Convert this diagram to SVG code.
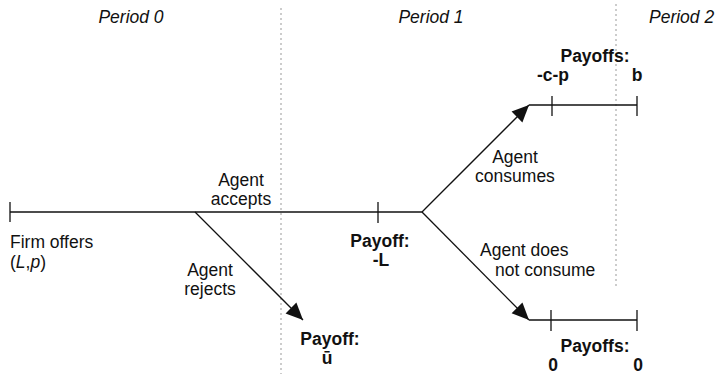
<svg xmlns="http://www.w3.org/2000/svg" width="716" height="374" viewBox="0 0 716 374">
<style>
text{font-family:"Liberation Sans",Arial,sans-serif;font-size:17.5px;fill:#111}
.it{font-style:italic}
.b{font-weight:bold}
.m{text-anchor:middle}
.ln{stroke:#111;stroke-width:1.3;fill:none}
.dot{stroke:#999;stroke-width:1;stroke-dasharray:2 3;fill:none}
</style>
<defs>
<marker id="ah" viewBox="0 0 10 10" refX="10" refY="5" markerWidth="17" markerHeight="17" markerUnits="userSpaceOnUse" orient="auto">
<path d="M0,0.5 L10,5 L0,9.5 z" fill="#111"/>
</marker>
</defs>
<g id="periods">
<line class="dot" x1="281" y1="8" x2="281" y2="374"/>
<line class="dot" x1="616" y1="4" x2="616" y2="286"/>
<text class="it m" x="131" y="23">Period 0</text>
<text class="it m" x="431" y="23">Period 1</text>
<text class="it" x="649" y="23">Period 2</text>
</g>
<g id="connectors">
<line class="ln" x1="10" y1="212" x2="422" y2="212"/>
<line class="ln" x1="195" y1="212" x2="303" y2="320" marker-end="url(#ah)"/>
<line class="ln" x1="422" y1="212" x2="529" y2="105" marker-end="url(#ah)"/>
<line class="ln" x1="422" y1="212" x2="529" y2="320" marker-end="url(#ah)"/>
<line class="ln" x1="529" y1="105" x2="637" y2="105"/>
<line class="ln" x1="529" y1="320" x2="637" y2="320"/>
</g>
<g id="start">
<line class="ln" x1="10" y1="202" x2="10" y2="222"/>
<text x="10" y="248">Firm offers</text>
<text x="10" y="268">(<tspan class="it">L</tspan>,<tspan class="it">p</tspan>)</text>
</g>
<g id="accept-label">
<text class="m" x="241" y="186">Agent</text>
<text class="m" x="241" y="205">accepts</text>
</g>
<g id="reject-label">
<text class="m" x="210" y="276">Agent</text>
<text class="m" x="210" y="295">rejects</text>
</g>
<g id="reject-payoff">
<text class="b m" x="330" y="345">Payoff:</text>
<text class="b m" x="327" y="364">ū</text>
</g>
<g id="accept-node">
<line class="ln" x1="378" y1="202" x2="378" y2="223"/>
<text class="b m" x="380" y="247">Payoff:</text>
<text class="b m" x="381" y="266">-L</text>
</g>
<g id="consume-label">
<text class="m" x="515" y="163">Agent</text>
<text class="m" x="515" y="182">consumes</text>
</g>
<g id="consume-payoffs">
<line class="ln" x1="552" y1="96" x2="552" y2="116"/>
<line class="ln" x1="637" y1="96" x2="637" y2="116"/>
<text class="b m" x="595" y="62">Payoffs:</text>
<text class="b m" x="553" y="81">-c-p</text>
<text class="b m" x="637" y="81">b</text>
</g>
<g id="noconsume-label">
<text x="480" y="256">Agent does</text>
<text x="495" y="276">not consume</text>
</g>
<g id="noconsume-payoffs">
<line class="ln" x1="551" y1="310" x2="551" y2="331"/>
<line class="ln" x1="637" y1="310" x2="637" y2="331"/>
<text class="b m" x="595" y="352">Payoffs:</text>
<text class="b m" x="553" y="371">0</text>
<text class="b m" x="638" y="371">0</text>
</g>
</svg>
